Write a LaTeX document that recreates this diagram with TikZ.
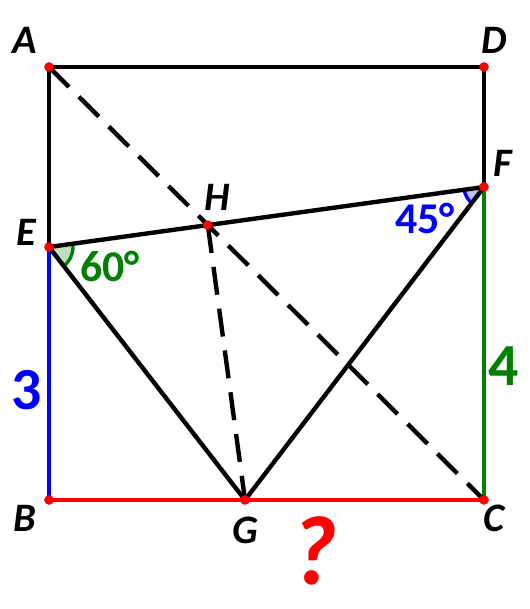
\documentclass[tikz,border=0pt]{standalone}
\usepackage{fontspec}
\setmainfont{Carlito}
\usetikzlibrary{intersections,calc}
\begin{document}
\begin{tikzpicture}[
  x=0.02cm, y=-0.02cm,
  seg/.style={line width=2.5pt, line cap=round},
  dash_seg/.style={seg, dash pattern=on 16pt off 8pt, line cap=butt},
  pt/.style={circle, fill=red, inner sep=0pt, minimum size=5.5pt},
  lbl/.style={font=\fontsize{23}{23}\selectfont\bfseries\itshape, inner sep=0pt},
  ang/.style={font=\fontsize{25}{25}\selectfont\bfseries, inner sep=0pt}
  ]
	\useasboundingbox (0,0) rectangle (529,609);

	\coordinate (A) at (49,67);
	\coordinate (D) at (484,67);
	\coordinate (F) at (484,187);
	\coordinate (E) at (49,247);
	\coordinate (B) at (49,500);
	\coordinate (G) at (245,500);
	\coordinate (C) at (484,500);
	\path[name path=ac] (A) -- (C);
	\path[name path=ef] (E) -- (F);
	\coordinate[name intersections={of=ac and ef, by=H}];

	% angle fills
	\fill[green!50!black!25] (E) -- ($(E)+(-7.8:24)$) arc[start angle=-7.8, end angle=52.2, radius=24] -- cycle;
	\draw[green!50!black, line width=1.9pt] ($(E)+(-7.8:24)$) arc[start angle=-7.8, end angle=52.2, radius=24];
	\fill[blue!25] (F) -- ($(F)+(127.4:20)$) arc[start angle=127.4, end angle=172.2, radius=20] -- cycle;
	\draw[blue, line width=1.9pt] ($(F)+(127.4:20)$) arc[start angle=127.4, end angle=172.2, radius=20];

	\draw[seg] (E) -- (A) -- (D) -- (F);
	\draw[seg, blue] (E) -- (B);
	\draw[seg, green!50!black] (F) -- (C);
	\draw[seg, red] (B) -- (C);
	\draw[seg] (E) -- (F);
	\draw[seg] (E) -- (G) -- (F);
	\draw[dash_seg] (A) -- (C);
	\draw[dash_seg] (H) -- (G);

	\foreach \p in {A,D,F,E,H,B,G,C}
		\node[pt] at (\p) {};

	\node[lbl] (lA) at (25,40) {A};
	\node[lbl] (lD) at (494,40) {D};
	\node[lbl] (lF) at (503,163) {F};
	\node[lbl] (lH) at (217,197) {H};
	\node[lbl] (lE) at (26,232) {E};
	\node[lbl] (lB) at (25,518) {B};
	\node[lbl] (lG) at (245,530) {G};
	\node[lbl] (lC) at (494,518) {C};

	\node[ang, green!50!black] (a60) at (110,266) {60°};
	\node[ang, blue] (a45) at (425,218) {45°};
	\node[font=\fontsize{34}{34}\selectfont\bfseries, blue, inner sep=0pt] (n3) at (27,390) {3};
	\node[font=\fontsize{34}{34}\selectfont\bfseries, green!50!black, inner sep=0pt] (n4) at (504,366) {4};
	\node[font=\fontsize{56}{56}\selectfont\bfseries\itshape, red, inner sep=0pt] (q) at (314,551) {?};
\end{tikzpicture}
\end{document}
